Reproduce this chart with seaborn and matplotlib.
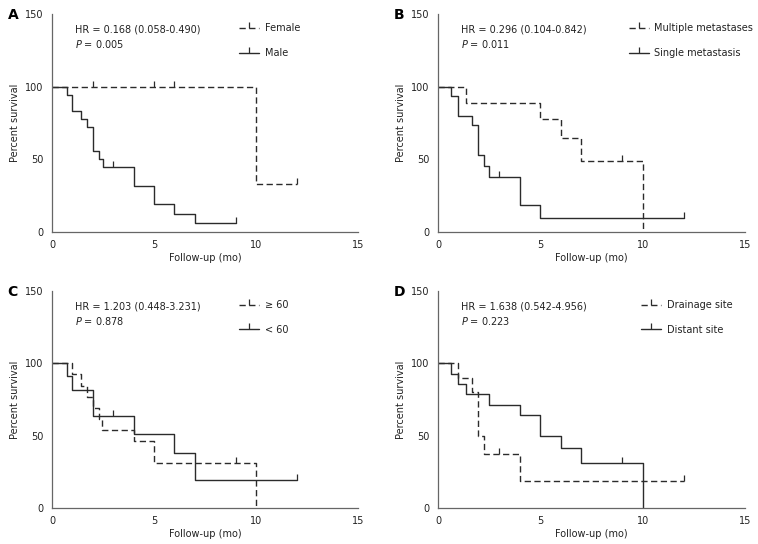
#!/usr/bin/env python

import numpy as np
import pandas as pd
import matplotlib
matplotlib.use("Agg")
import matplotlib.pyplot as plt
import seaborn as sns
from matplotlib.lines import Line2D

# A: 性別
a_female_t = [0, 10, 12]
a_female_s = [100, 33.3, 33.3]
a_female_c = [2, 5, 6, 12]
a_male_t = [0, 0.72, 1.0, 1.4, 1.7, 2.0, 2.3, 2.5, 4.0, 5.0, 6.0, 7.0, 9.0]
a_male_s = [100, 94.4, 83.3, 77.8, 72.2, 55.6, 50.0, 44.4, 31.7, 19.0, 12.7, 6.3, 6.3]
a_male_c = [3, 9]

# B: 転移数
b_multi_t = [0, 1.37, 5.0, 6.0, 7.0, 10.0]
b_multi_s = [100, 88.9, 77.8, 64.8, 48.6, 0]
b_multi_c = [9]
b_single_t = [0, 0.65, 0.97, 1.67, 1.96, 2.27, 2.47, 4.0, 5.0, 12.0]
b_single_s = [100, 93.3, 80.0, 73.3, 53.3, 45.5, 37.8, 18.9, 9.5, 9.5]
b_single_c = [3, 12]

# C: 年齢
c_old_t = [0, 1.0, 1.4, 1.7, 2.0, 2.28, 2.47, 4.0, 5.0, 10.0]
c_old_s = [100, 92.3, 84.6, 76.9, 69.2, 61.5, 53.8, 46.2, 30.8, 0]
c_old_c = [9]
c_young_t = [0, 0.72, 1.0, 2.0, 4.0, 6.0, 7.0, 12.0]
c_young_s = [100, 90.9, 81.8, 63.6, 50.9, 38.2, 19.1, 19.1]
c_young_c = [3, 12]

# D: 部位
d_drain_t = [0, 0.97, 1.67, 1.96, 2.27, 4.0, 12.0]
d_drain_s = [100, 90.0, 80.0, 50.0, 37.5, 18.8, 18.8]
d_drain_c = [3, 12]
d_dist_t = [0, 0.65, 0.97, 1.36, 2.47, 4.0, 5.0, 6.0, 7.0, 10.0]
d_dist_s = [100, 92.9, 85.7, 78.6, 71.4, 64.3, 50.0, 41.7, 31.3, 0]
d_dist_c = [9]

panels = [
    dict(letter="A", hr="HR = 0.168 (0.058-0.490)", p="0.005",
         groups=[("Female", a_female_t, a_female_s, a_female_c),
                 ("Male", a_male_t, a_male_s, a_male_c)],
         rect=[0.0686, 0.5735, 0.4037, 0.4007], leg_x=0.60),
    dict(letter="B", hr="HR = 0.296 (0.104-0.842)", p="0.011",
         groups=[("Multiple metastases", b_multi_t, b_multi_s, b_multi_c),
                 ("Single metastasis", b_single_t, b_single_s, b_single_c)],
         rect=[0.5778, 0.5735, 0.405, 0.4007], leg_x=0.61),
    dict(letter="C", hr="HR = 1.203 (0.448-3.231)", p="0.878",
         groups=[("\u2265 60", c_old_t, c_old_s, c_old_c),
                 ("< 60", c_young_t, c_young_s, c_young_c)],
         rect=[0.0686, 0.0662, 0.4037, 0.399], leg_x=0.60),
    dict(letter="D", hr="HR = 1.638 (0.542-4.956)", p="0.223",
         groups=[("Drainage site", d_drain_t, d_drain_s, d_drain_c),
                 ("Distant site", d_dist_t, d_dist_s, d_dist_c)],
         rect=[0.5778, 0.0662, 0.405, 0.399], leg_x=0.65),
]

LINE = "#2b2b2b"
AXC = "#666666"
TXT = "#222222"
FS = 7.0
DASH = (4.5, 2.5)


def step_level(t, times, surv):
    """ 打ち切り時点の生存率 """
    idx = np.searchsorted(times, t, side="right") - 1
    return surv[idx]


def draw_panel(fig, info):
    ax = fig.add_axes(info["rect"])
    handles = []
    for i, (name, times, surv, cens) in enumerate(info["groups"]):
        df = pd.DataFrame({"t": times, "s": surv})
        sns.lineplot(data=df, x="t", y="s", drawstyle="steps-post",
                     estimator=None, color=LINE, linewidth=1.0, ax=ax)
        line = ax.get_lines()[-1]
        if i == 0:
            line.set_dashes(DASH)
        cdf = pd.DataFrame({"t": cens,
                            "s": [step_level(c, times, surv) for c in cens]})
        ax.plot(cdf["t"], cdf["s"], linestyle="none", marker=2,
                markersize=4, markeredgewidth=0.9, color=LINE)
        h = Line2D([0], [0], color=LINE, lw=1.0, marker=2, markersize=4,
                   markeredgewidth=0.9)
        if i == 0:
            h.set_dashes(DASH)
        handles.append(h)

    ax.set_xlim(0, 15)
    ax.set_ylim(0, 150)
    ax.set_xticks([0, 5, 10, 15])
    ax.set_yticks([0, 50, 100, 150])
    ax.set_xlabel("Follow-up (mo)", fontsize=FS, color=TXT, labelpad=2)
    ax.set_ylabel("Percent survival", fontsize=FS, color=TXT, labelpad=4)
    ax.tick_params(direction="in", length=3, width=0.8, color=AXC,
                   labelsize=FS, labelcolor=TXT, pad=6)
    ax.margins(0)
    for side in ["top", "right"]:
        ax.spines[side].set_visible(False)
    for side in ["left", "bottom"]:
        ax.spines[side].set_color(AXC)
        ax.spines[side].set_linewidth(0.9)

    ax.text(0.075, 0.93, info["hr"], transform=ax.transAxes,
            fontsize=FS, color=TXT, va="center", ha="left")
    ax.text(0.075, 0.862, r"$\mathit{P}$ = " + info["p"],
            transform=ax.transAxes, fontsize=FS, color=TXT,
            va="center", ha="left")
    ax.text(-0.145, 0.995, info["letter"], transform=ax.transAxes,
            fontsize=10, fontweight="bold", color="black",
            va="center", ha="left")

    ax.legend(handles, [g[0] for g in info["groups"]], loc="upper left",
              bbox_to_anchor=(info["leg_x"], 0.975), frameon=False,
              fontsize=FS, handlelength=2.0, handletextpad=0.6,
              labelspacing=1.5, numpoints=1, borderaxespad=0,
              labelcolor=TXT)
    return ax


def main():
    sns.set_style("white")
    plt.rcParams["font.family"] = ["DejaVu Sans"]
    plt.rcParams["mathtext.fontset"] = "dejavusans"

    fig = plt.figure(figsize=(7.58, 5.44), dpi=100)
    for info in panels:
        draw_panel(fig, info)

    fig.savefig("out.png", dpi=100)
    plt.close("all")


if __name__ == "__main__":
    main()
